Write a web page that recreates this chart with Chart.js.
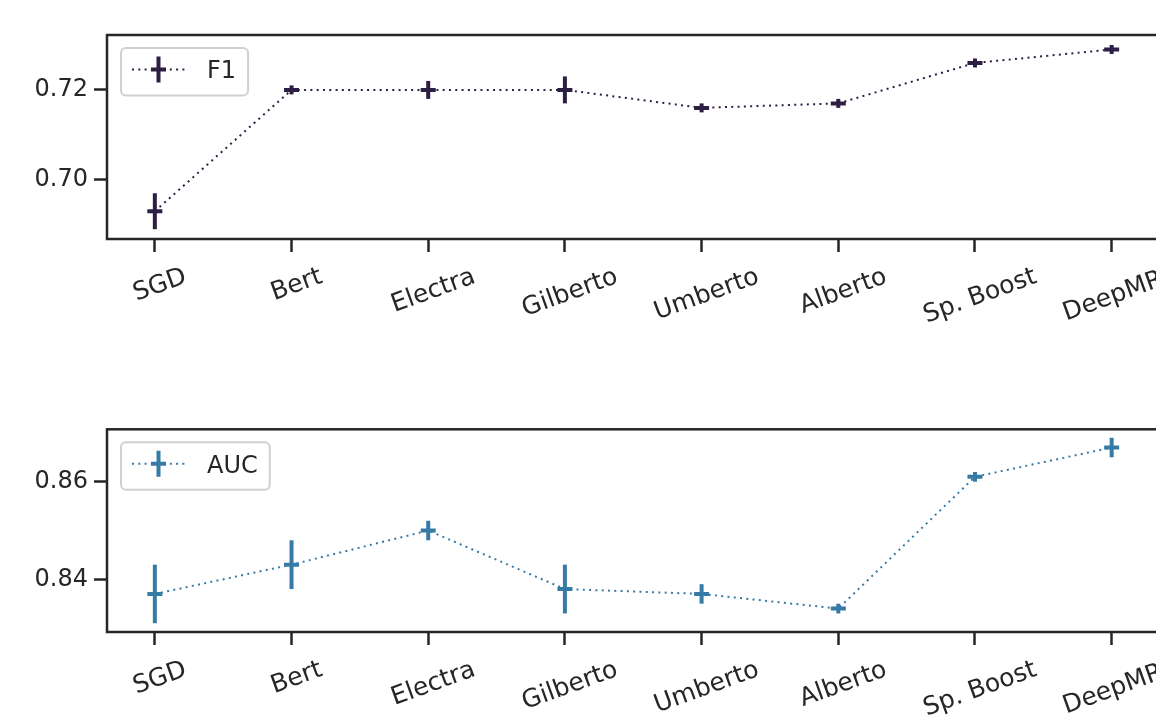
<!DOCTYPE html>
<html>
<head>
<meta charset="utf-8">
<script src="https://cdn.jsdelivr.net/npm/chart.js@4.4.0/dist/chart.umd.min.js"></script>
<style>
html, body { margin: 0; padding: 0; background: #fff; overflow: hidden; width: 1156px; height: 715px; }
.wrap { position: absolute; left: 0; width: 1171px; }
#topWrap { top: 0; height: 357px; }
#bottomWrap { top: 357px; height: 358px; }
</style>
</head>
<body>
<div class="wrap" id="topWrap"><canvas id="f1Chart"></canvas></div>
<div class="wrap" id="bottomWrap"><canvas id="aucChart"></canvas></div>
<script>
// values
const models = ['SGD', 'Bert', 'Electra', 'Gilberto', 'Umberto', 'Alberto', 'Sp. Boost', 'DeepMRI'];
const f1Values = [0.693, 0.720, 0.720, 0.720, 0.716, 0.717, 0.726, 0.729];
const f1Errors = [0.004, 0.001, 0.002, 0.003, 0.001, 0.001, 0.001, 0.001];
const aucValues = [0.837, 0.843, 0.850, 0.838, 0.837, 0.834, 0.861, 0.867];
const aucErrors = [0.006, 0.005, 0.002, 0.005, 0.002, 0.001, 0.001, 0.002];
const f1Ticks = [0.70, 0.72];
const aucTicks = [0.84, 0.86];

const INK = '#262626';
const FONT = 'DejaVu Sans';
const ROT = 20;
const XFONT = 25;

Chart.defaults.font.family = FONT;
Chart.defaults.font.size = 24;
Chart.defaults.color = INK;

// frame, error bars, centred rotated labels and legend box
const decorations = {
    id: 'decorations',
    beforeDraw(chart) {
        // matplotlib centres rotated tick labels under the tick; Chart.js right-aligns them
        const xs = chart.scales.x;
        const items = xs.getLabelItems(chart.chartArea);
        if (items._centred) return;
        const ctx = chart.ctx;
        ctx.save();
        ctx.font = XFONT + 'px "' + FONT + '"';
        const sin = Math.sin(ROT * Math.PI / 180);
        items.forEach((item, i) => {
            const w = ctx.measureText(item.label).width;
            item.options.textAlign = 'center';
            item.options.translation[0] = xs.getPixelForValue(xs.ticks[i].value);
            item.options.translation[1] += w / 2 * sin;
        });
        ctx.restore();
        items._centred = true;
    },
    beforeDatasetsDraw(chart) {
        const ctx = chart.ctx;
        const xs = chart.scales.x, ys = chart.scales.y;
        chart.data.datasets.forEach(ds => {
            ctx.save();
            ctx.strokeStyle = ds.borderColor;
            ctx.lineWidth = 4;
            ds.errors.forEach((e, i) => {
                const x = xs.getPixelForValue(i);
                const v = ds.data[i].y;
                ctx.beginPath();
                ctx.moveTo(x, ys.getPixelForValue(v - e));
                ctx.lineTo(x, ys.getPixelForValue(v + e));
                ctx.stroke();
            });
            ctx.restore();
        });
    },
    afterDraw(chart) {
        const ctx = chart.ctx;
        const a = chart.chartArea;
        ctx.save();
        ctx.strokeStyle = INK;
        ctx.lineWidth = 2.5;
        ctx.strokeRect(a.left, a.top, a.right - a.left, a.bottom - a.top);

        // legend
        const ds = chart.data.datasets[0];
        ctx.font = '24px "' + FONT + '"';
        const tw = ctx.measureText(ds.label).width;
        const bx = a.left + 14, by = a.top + 13, bh = 47.5;
        const bw = 86 + tw + 12;
        ctx.beginPath();
        ctx.roundRect(bx, by, bw, bh, 5);
        ctx.fillStyle = 'rgba(255,255,255,0.8)';
        ctx.fill();
        ctx.strokeStyle = '#d0d0d0';
        ctx.lineWidth = 2;
        ctx.stroke();

        const cy = by + 21.5;
        ctx.strokeStyle = ds.borderColor;
        ctx.lineWidth = 2;
        ctx.setLineDash([2, 4.3]);
        ctx.beginPath();
        ctx.moveTo(bx + 11, cy);
        ctx.lineTo(bx + 64, cy);
        ctx.stroke();
        ctx.setLineDash([]);
        ctx.lineWidth = 4;
        const mx = bx + 37.5;
        ctx.beginPath();
        ctx.moveTo(mx - 7.5, cy); ctx.lineTo(mx + 7.5, cy);
        ctx.moveTo(mx, cy - 13); ctx.lineTo(mx, cy + 13);
        ctx.stroke();

        ctx.fillStyle = INK;
        ctx.textBaseline = 'alphabetic';
        ctx.textAlign = 'left';
        ctx.fillText(ds.label, bx + 86, cy + 8.8);
        ctx.restore();
    }
};

function makeChart(canvasId, label, color, values, errors, ticks, yMin, yMax, padTop, xHeight) {
    const ctx = document.getElementById(canvasId).getContext('2d');
    return new Chart(ctx, {
        type: 'line',
        data: {
            datasets: [{
                label: label,
                data: values.map((v, i) => ({ x: i, y: v })),
                errors: errors,
                borderColor: color,
                backgroundColor: color,
                borderWidth: 2,
                borderDash: [2, 4.3],
                pointStyle: 'line',
                pointRadius: 7.5,
                pointBorderWidth: 4,
                pointBorderColor: color,
                fill: false,
                tension: 0
            }]
        },
        options: {
            responsive: true,
            maintainAspectRatio: false,
            animation: false,
            layout: { padding: { top: padTop, left: 0, right: 2, bottom: 0 } },
            plugins: { legend: { display: false }, tooltip: { enabled: false } },
            scales: {
                x: {
                    type: 'linear',
                    min: -0.35,
                    max: models.length - 1 + 0.35,
                    afterBuildTicks: scale => { scale.ticks = models.map((m, i) => ({ value: i })); },
                    afterFit: scale => { scale.height = xHeight; },
                    border: { display: false },
                    grid: { drawOnChartArea: false, drawTicks: true, tickLength: 13, tickWidth: 2.5, tickColor: INK },
                    ticks: {
                        autoSkip: false,
                        minRotation: ROT,
                        maxRotation: ROT,
                        padding: 10,
                        font: { size: XFONT },
                        callback: v => models[v]
                    }
                },
                y: {
                    min: yMin,
                    max: yMax,
                    afterBuildTicks: scale => { scale.ticks = ticks.map(t => ({ value: t })); },
                    afterFit: scale => { scale.width = 107; },
                    border: { display: false },
                    grid: { drawOnChartArea: false, drawTicks: true, tickLength: 13, tickWidth: 2.5, tickColor: INK },
                    ticks: { padding: 6, callback: v => v.toFixed(2) }
                }
            }
        },
        plugins: [decorations]
    });
}

makeChart('f1Chart', 'F1', '#2d1e44', f1Values, f1Errors, f1Ticks, 0.68682, 0.73222, 35, 118);
makeChart('aucChart', 'AUC', '#367aa6', aucValues, aucErrors, aucTicks, 0.8292, 0.87074, 72.3, 83);
</script>
</body>
</html>
